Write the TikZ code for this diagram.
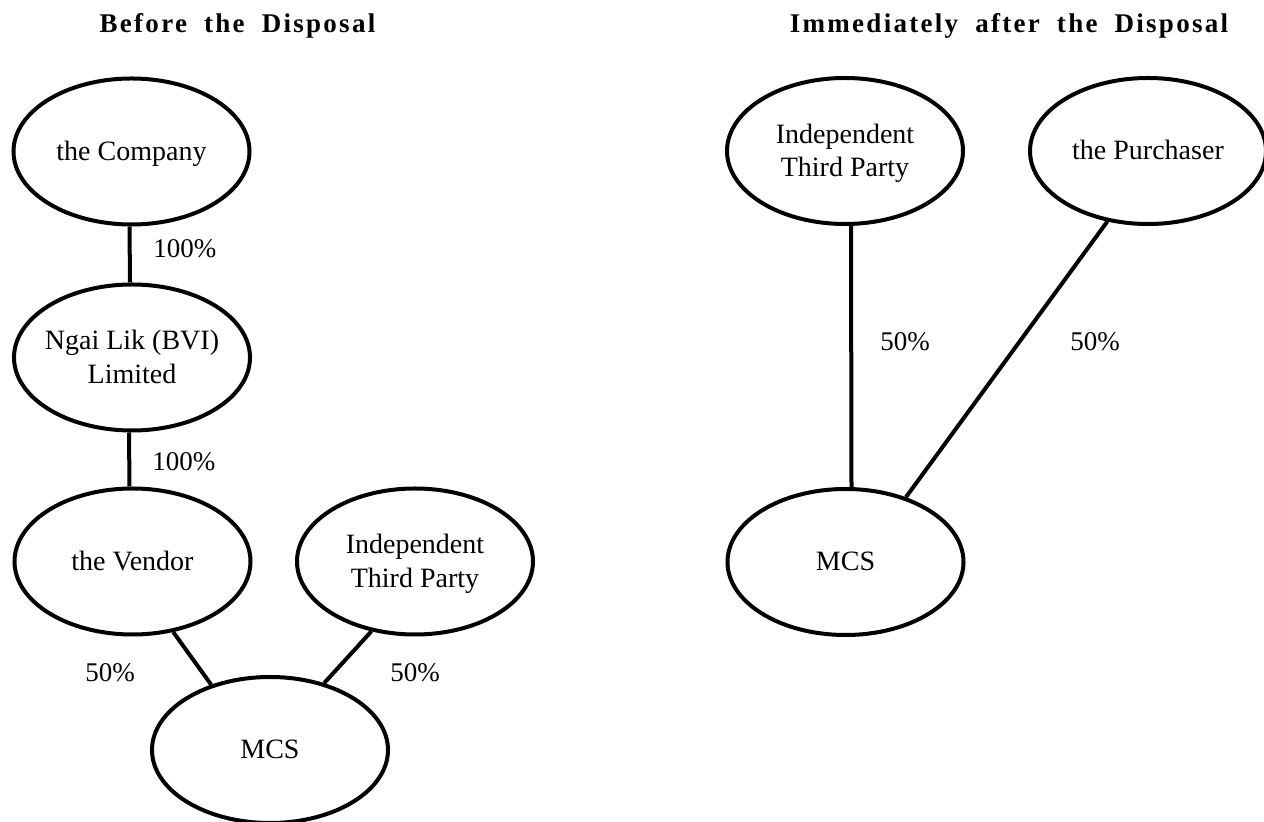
\documentclass[tikz,border=0pt]{standalone}
\usepackage{fontspec}
\setmainfont{Liberation Serif}
\newfontfamily\titlefont{Liberation Serif}[LetterSpace=8.5]
\usetikzlibrary{shapes.geometric}
\newcommand\entTop{\rule{0pt}{12.5pt}}
\newcommand\entBot{\rule[-3.6pt]{0pt}{3.6pt}}
\begin{document}
\begin{tikzpicture}[x=0.5pt,y=-0.5pt,
  ent/.style={ellipse, draw, line width=2pt, minimum width=118pt, minimum height=73pt,
    inner sep=-4pt, align=center, font=\fontsize{14}{16.75}\selectfont},
  pct/.style={anchor=base west, inner sep=0pt, font=\fontsize{13.5}{16}\selectfont},
  ttl/.style={anchor=base, inner sep=0pt, font=\titlefont\bfseries\fontsize{13.5}{16}\selectfont},
  link/.style={line width=2pt}]
\useasboundingbox (0,0) rectangle (1264,822);
% titles
\node[ttl] (t1) at (237.5,33) {Before\hspace{4pt} the\hspace{4pt} Disposal};
\node[ttl] (t2) at (1009,33) {Immediately\hspace{4pt} after\hspace{4pt} the\hspace{4pt} Disposal};
% left structure
\node[ent] (comp) at (131.5,151.5) {\entTop the Company\entBot};
\node[ent] (ngai) at (132,357.5) {\entTop Ngai Lik (BVI)\\Limited\entBot};
\node[ent] (vend) at (132.5,561.5) {\entTop the Vendor\entBot};
\node[ent] (itpL) at (415,561.5) {\entTop Independent\\Third Party\entBot};
\node[ent] (mcsL) at (270,750) {\entTop MCS\entBot};
\draw[link] ([xshift=-1pt]comp.south) -- ([xshift=-1pt]ngai.north);
\draw[link] ([xshift=-1.5pt]ngai.south) -- ([xshift=-1.5pt]vend.north);
\draw[link] (vend.-60) -- (mcsL.132);
\draw[link] (itpL.238) -- (mcsL.51);
\node[pct] (p1) at (153,258) {100\%};
\node[pct] (p2) at (152,471) {100\%};
\node[pct] (p3) at (85,682) {50\%};
\node[pct] (p4) at (390,682) {50\%};
% right structure
\node[ent] (itpR) at (845,151) {\entTop Independent\\Third Party\entBot};
\node[ent] (purch) at (1148,151) {\entTop the Purchaser\entBot};
\node[ent] (mcsR) at (845.5,562) {\entTop MCS\entBot};
\draw[link] ([xshift=3pt]itpR.south) -- ([xshift=3pt]mcsR.north);
\draw[link] (purch.240) -- (mcsR.47);
\node[pct] (p5) at (880,351) {50\%};
\node[pct] (p6) at (1070,351) {50\%};
\end{tikzpicture}
\end{document}
